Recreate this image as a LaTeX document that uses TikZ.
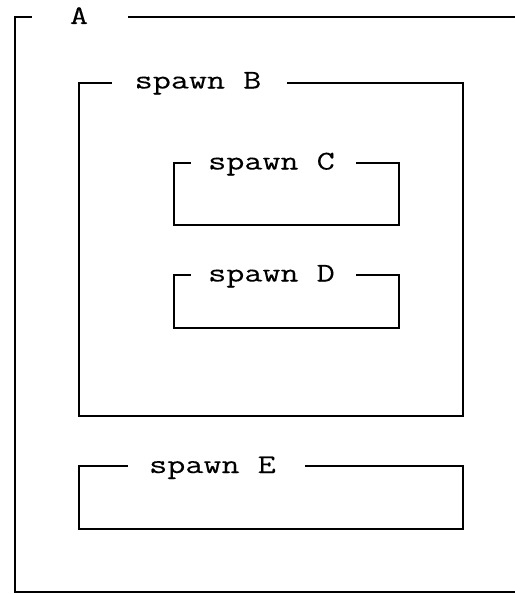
\documentclass[tikz,border=0pt]{standalone}
\usepackage{fontspec}
\usepackage{graphicx}
\newfontfamily\labelfont[FakeBold=0.15]{Latin Modern Mono}
\tikzset{
  frame/.style={line width=1.2pt, line cap=rect},
  lbl/.style={inner sep=0pt, anchor=base,
    font=\labelfont\fontsize{27}{27}\selectfont},
}
\newcommand{\wide}[1]{\scalebox{1.3}[1]{#1}}
\begin{document}
\begin{tikzpicture}[x=1pt, y=-1pt]
  \useasboundingbox (0,0) rectangle (514,594);

  % outer scope A (open on the right)
  \draw[frame] (31,17) -- (15,17) -- (15,592) -- (514,592);
  \draw[frame] (129,17) -- (514,17);
  \node[lbl] (labA) at (79,24) {\wide{A}};

  % spawn B
  \draw[frame] (111,83) -- (79,83) -- (79,416) -- (463,416) -- (463,83) -- (288,83);
  \node[lbl] (labB) at (198,88.5) {\wide{spawn B}};

  % spawn C
  \draw[frame] (190,163) -- (174,163) -- (174,225) -- (399,225) -- (399,163) -- (357,163);
  \node[lbl] (labC) at (271.5,169.5) {\wide{spawn C}};

  % spawn D
  \draw[frame] (190,275) -- (174,275) -- (174,328) -- (399,328) -- (399,275) -- (357,275);
  \node[lbl] (labD) at (271.5,281.5) {\wide{spawn D}};

  % spawn E
  \draw[frame] (127,466) -- (79,466) -- (79,529) -- (463,529) -- (463,466) -- (306,466);
  \node[lbl] (labE) at (212.5,473) {\wide{spawn E}};
\end{tikzpicture}
\end{document}
